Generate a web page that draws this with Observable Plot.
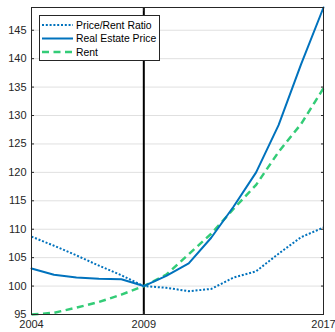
<!DOCTYPE html>
<html>
<head>
<meta charset="utf-8">
<script src="https://cdn.jsdelivr.net/npm/d3@7"></script>
<script src="https://cdn.jsdelivr.net/npm/@observablehq/plot@0.6"></script>
<style>
  html, body { margin: 0; padding: 0; background: #fff; }
  #chart { width: 335px; height: 332px; }
</style>
</head>
<body>
<div id="chart"></div>
<script>
const years = [2004, 2005, 2006, 2007, 2008, 2009, 2010, 2011, 2012, 2013, 2014, 2015, 2016, 2017];
const priceRentRatio = [108.7, 107.1, 105.4, 103.6, 101.9, 100, 99.7, 99.1, 99.5, 101.5, 102.6, 105.7, 108.6, 110.3];
const realEstatePrice = [103.1, 102.0, 101.5, 101.3, 101.2, 100, 101.8, 104.0, 108.5, 114.0, 120.0, 128.3, 139.0, 149.0];
const rent = [95.0, 95.3, 96.2, 97.2, 98.5, 100, 102.0, 105.6, 109.2, 113.6, 117.8, 123.6, 128.5, 134.8];
const xTicks = [2004, 2009, 2017];
const yTicks = [95, 100, 105, 110, 115, 120, 125, 130, 135, 140, 145];
const seriesNames = ["Price/Rent Ratio", "Real Estate Price", "Rent"];

const blue = "#0072BD";
const green = "#33CC77";
const axisColor = "#262626";
const dotDash = "2,1.8";
const dashDash = "7,4.5";

const rows = (vals) => years.map((y, i) => ({year: y, value: vals[i]}));

const chart = Plot.plot({
  width: 335,
  height: 332,
  marginLeft: 31,
  marginRight: 12,
  marginTop: 7,
  marginBottom: 18,
  style: {fontFamily: "'Liberation Sans', Arial, sans-serif", fontSize: "11px", color: axisColor, background: "#fff"},
  x: {domain: [2004, 2017]},
  y: {domain: [95, 149]},
  marks: [
    Plot.gridY(yTicks, {stroke: "#e0e0e0", strokeOpacity: 1, strokeWidth: 1}),
    Plot.ruleX([2009], {stroke: "#000", strokeWidth: 2}),
    Plot.line(rows(rent), {x: "year", y: "value", stroke: green, strokeWidth: 2.5, strokeDasharray: dashDash, strokeLinecap: "butt"}),
    Plot.line(rows(realEstatePrice), {x: "year", y: "value", stroke: blue, strokeWidth: 2}),
    Plot.line(rows(priceRentRatio), {x: "year", y: "value", stroke: blue, strokeWidth: 2, strokeDasharray: dotDash, strokeLinecap: "butt"}),
    Plot.frame({stroke: axisColor, strokeWidth: 1}),
    Plot.axisY(yTicks, {anchor: "left", tickSize: -3, tickPadding: 8, stroke: axisColor, fill: axisColor, fontSize: 11, label: null}),
    Plot.axisY(yTicks, {anchor: "right", tickSize: -3, tickFormat: () => "", stroke: axisColor, label: null}),
    Plot.axisX(xTicks, {anchor: "bottom", tickSize: -3, tickPadding: 9, tickFormat: d => String(d), stroke: axisColor, fill: axisColor, fontSize: 11, label: null}),
    Plot.axisX(xTicks, {anchor: "top", tickSize: -3, tickFormat: () => "", stroke: axisColor, label: null})
  ]
});

document.getElementById("chart").appendChild(chart);

// Legend inside the plot area
const svg = d3.select(chart);
const lg = svg.append("g")
  .attr("font-family", "'Liberation Sans', Arial, sans-serif")
  .attr("font-size", 10.4)
  .attr("text-anchor", "start");
lg.append("rect").attr("x", 39.5).attr("y", 15.5).attr("width", 120).attr("height", 45)
  .attr("fill", "#fff").attr("stroke", axisColor).attr("stroke-width", 1);
const styles = [
  {stroke: blue, dash: dotDash, w: 2},
  {stroke: blue, dash: null, w: 2},
  {stroke: green, dash: dashDash, w: 2.5}
];
const rowY = [25, 38.5, 52];
seriesNames.forEach((name, i) => {
  const l = lg.append("line").attr("x1", 42).attr("x2", 73).attr("y1", rowY[i]).attr("y2", rowY[i])
    .attr("stroke", styles[i].stroke).attr("stroke-width", styles[i].w).attr("stroke-linecap", "butt");
  if (styles[i].dash) l.attr("stroke-dasharray", styles[i].dash);
  lg.append("text").attr("x", 76).attr("y", rowY[i]).attr("dy", "0.35em").attr("fill", "#000").text(name);
});
</script>
</body>
</html>
